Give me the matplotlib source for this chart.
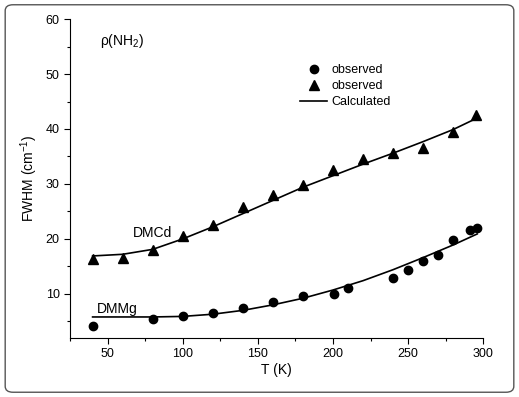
import matplotlib
matplotlib.use("Agg")
import matplotlib.pyplot as plt
from matplotlib.patches import FancyBboxPatch
from matplotlib.ticker import MultipleLocator

plt.rcParams['font.family'] = ['Liberation Sans', 'DejaVu Sans']
plt.rcParams['mathtext.fontset'] = 'custom'
plt.rcParams['mathtext.rm'] = 'Liberation Sans'
plt.rcParams['mathtext.it'] = 'Liberation Sans:italic'

# DMCd observed (triangles)
t_cd = [40, 60, 80, 100, 120, 140, 160, 180, 200, 220, 240, 260, 280, 295]
w_cd = [16.3, 16.5, 18.0, 20.5, 22.5, 25.8, 28.0, 29.8, 32.6, 34.5, 35.7, 36.6, 39.4, 42.6]

# DMMg observed (circles)
t_mg = [40, 80, 100, 120, 140, 160, 180, 201, 210, 240, 250, 260, 270, 280, 291, 296]
w_mg = [4.1, 5.5, 6.0, 6.6, 7.4, 8.6, 9.6, 10.0, 11.1, 12.8, 14.4, 16.0, 17.1, 19.8, 21.6, 22.0]

# calculated curves
tc_cd = [40, 60, 80, 100, 120, 140, 160, 180, 200, 220, 240, 260, 280, 296]
wc_cd = [16.9, 17.2, 18.1, 20.0, 22.2, 24.6, 27.0, 29.4, 31.5, 33.6, 35.6, 37.7, 39.9, 42.0]
tc_mg = [40, 80, 100, 120, 140, 160, 180, 200, 220, 240, 260, 280, 296]
wc_mg = [5.8, 5.8, 5.9, 6.3, 7.0, 8.0, 9.2, 10.7, 12.4, 14.4, 16.6, 18.9, 20.9]

fig = plt.figure(figsize=(5.19, 3.97), dpi=100)
ax = fig.add_axes([0.135, 0.149, 0.796, 0.803])

ax.plot(t_mg, w_mg, 'o', color='black', markersize=6, label='observed')
ax.plot(t_cd, w_cd, '^', color='black', markersize=6.5, label='observed')
ax.plot(tc_cd, wc_cd, '-', color='black', linewidth=1.2, label='Calculated')
ax.plot(tc_mg, wc_mg, '-', color='black', linewidth=1.2)

ax.set_xlim(25, 300)
ax.set_ylim(2, 60)
ax.xaxis.set_major_locator(MultipleLocator(50))
ax.xaxis.set_minor_locator(MultipleLocator(25))
ax.yaxis.set_major_locator(MultipleLocator(10))
ax.yaxis.set_minor_locator(MultipleLocator(5))
ax.tick_params(which='major', length=4, width=0.8, labelsize=9, direction='out')
ax.tick_params(which='minor', length=2.5, width=0.8, direction='out')
ax.spines['top'].set_visible(False)
ax.spines['right'].set_visible(False)

ax.set_xlabel('T (K)', fontsize=10, labelpad=2)
ax.set_ylabel('FWHM (cm$^{-1}$)', fontsize=10, labelpad=4)

ax.text(45, 55.2, 'ρ(NH$_2$)', fontsize=10)
ax.text(67, 20.3, 'DMCd', fontsize=10)
ax.text(43, 6.6, 'DMMg', fontsize=10)

ax.legend(loc='upper left', bbox_to_anchor=(0.535, 0.885), frameon=False,
          fontsize=9, handlelength=2.2, handletextpad=0.3, labelspacing=0.3,
          borderpad=0.2)

frame = FancyBboxPatch((0.01, 0.012), 0.98, 0.976, boxstyle='round,pad=0,rounding_size=0.015',
                       transform=fig.transFigure, facecolor='none', edgecolor='#555555',
                       linewidth=1.0)
fig.patches.append(frame)

fig.savefig('out.png', dpi=100)
